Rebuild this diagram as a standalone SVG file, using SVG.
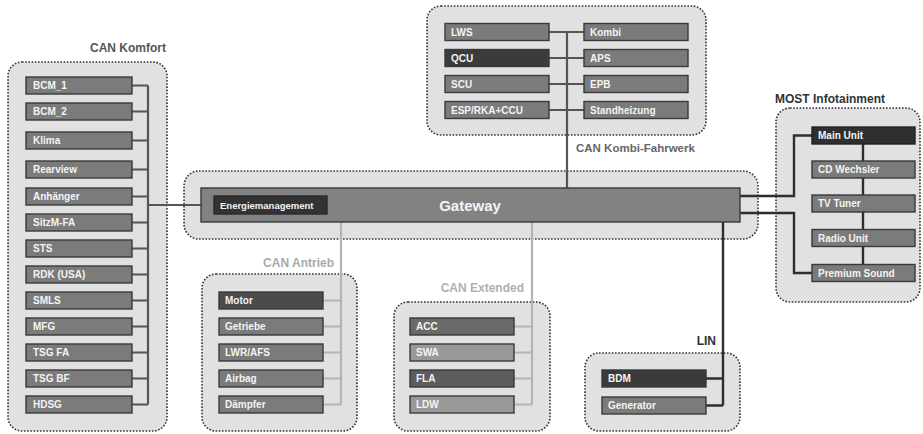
<svg xmlns="http://www.w3.org/2000/svg" width="923" height="434" viewBox="0 0 923 434">
<style>
.grp{fill:#e1e1e1;stroke:#333;stroke-width:1.6;stroke-dasharray:1.6 1.6}
.box{fill:#7b7b7b;stroke:#3a3a3a;stroke-width:1.4}
.dk{fill:#3b3b3b}
.lt{fill:#989898}
.t{font-family:"Liberation Sans",Arial,sans-serif;font-weight:bold;font-size:10px;fill:#f4f4f4}
.lbl{font-family:"Liberation Sans",Arial,sans-serif;font-weight:bold;font-size:12px}
.bus{fill:none;stroke:#555;stroke-width:2.2}
.busl{fill:none;stroke:#b4b4b4;stroke-width:2.2}
.busd{fill:none;stroke:#2e2e2e;stroke-width:2.4}
</style>
<rect width="923" height="434" fill="#fff"/>

<!-- containers -->
<g id="grp-komfort">
<rect class="grp" x="8" y="62" width="159" height="369" rx="14"/>
<text class="lbl" x="166" y="52" text-anchor="end" style="fill:#555">CAN Komfort</text>
</g>
<g id="grp-kombi">
<rect class="grp" x="427" y="6" width="279" height="129" rx="14"/>
<text class="lbl" x="576" y="152" style="fill:#666;font-size:11.5px">CAN Kombi-Fahrwerk</text>
</g>
<g id="grp-gateway">
<rect class="grp" x="184" y="171" width="574" height="68" rx="15"/>
</g>
<g id="grp-most">
<rect class="grp" x="776" y="108" width="144" height="194" rx="14"/>
<text class="lbl" x="775" y="103" style="fill:#333">MOST Infotainment</text>
</g>
<g id="grp-antrieb">
<rect class="grp" x="202" y="274" width="155" height="157" rx="14"/>
<text class="lbl" x="334" y="267" text-anchor="end" style="fill:#aaa">CAN Antrieb</text>
</g>
<g id="grp-extended">
<rect class="grp" x="394" y="302" width="156" height="129" rx="14"/>
<text class="lbl" x="524" y="292" text-anchor="end" style="fill:#b0b0b0">CAN Extended</text>
</g>
<g id="grp-lin">
<rect class="grp" x="585" y="353" width="155" height="78" rx="14"/>
<text class="lbl" x="716" y="345" text-anchor="end" style="fill:#333">LIN</text>
</g>

<!-- connectors -->
<g id="connectors">
<path class="bus" d="M148 85.5V404.5M132 85.5H148M132 111.5H148M132 140.5H148M132 169.5H148M132 196.5H148M132 222.5H148M132 248.5H148M132 274.5H148M132 300.5H148M132 326.5H148M132 352.5H148M132 378.5H148M132 404.5H148M148 205H201"/>
<path class="bus" d="M567 32V188M549 32H584M549 58H584M549 84H584M549 110H584"/>
<path class="busl" d="M341 222V404.5M323 300.5H341M323 326.5H341M323 352.5H341M323 378.5H341M323 404.5H341"/>
<path class="busl" d="M532 222V404.5M514 326.5H532M514 352.5H532M514 378.5H532M514 404.5H532"/>
<path class="busd" d="M723 222V405.5M706 378.5H723M706 405.5H723"/>
<path class="busd" d="M740 196H794V135.5H812M740 213H794V273H812M863 144V264"/>
</g>

<!-- Gateway -->
<g id="gateway">
<rect class="box" x="201" y="188" width="539" height="34" style="fill:#828282"/>
<text class="t" x="470" y="210.5" text-anchor="middle" style="font-size:15px">Gateway</text>
</g>
<g id="energiemanagement">
<rect class="box dk" x="214" y="196" width="113" height="18" style="stroke:#2a2a2a;fill:#333"/>
<text class="t" x="220" y="208.5" style="font-size:9.5px">Energiemanagement</text>
</g>

<!-- Komfort nodes -->
<g id="bcm1"><rect class="box" x="26" y="77" width="106" height="17"/><text class="t" x="33" y="89">BCM_1</text></g>
<g id="bcm2"><rect class="box" x="26" y="103" width="106" height="17"/><text class="t" x="33" y="115">BCM_2</text></g>
<g id="klima"><rect class="box" x="26" y="132" width="106" height="17"/><text class="t" x="33" y="144">Klima</text></g>
<g id="rearview"><rect class="box" x="26" y="161" width="106" height="17"/><text class="t" x="33" y="173">Rearview</text></g>
<g id="anhaenger"><rect class="box" x="26" y="188" width="106" height="17"/><text class="t" x="33" y="200">Anhänger</text></g>
<g id="sitzm"><rect class="box" x="26" y="214" width="106" height="17"/><text class="t" x="33" y="226">SitzM-FA</text></g>
<g id="sts"><rect class="box" x="26" y="240" width="106" height="17"/><text class="t" x="33" y="252">STS</text></g>
<g id="rdk"><rect class="box" x="26" y="266" width="106" height="17"/><text class="t" x="33" y="278">RDK (USA)</text></g>
<g id="smls"><rect class="box" x="26" y="292" width="106" height="17"/><text class="t" x="33" y="304">SMLS</text></g>
<g id="mfg"><rect class="box" x="26" y="318" width="106" height="17"/><text class="t" x="33" y="330">MFG</text></g>
<g id="tsgfa"><rect class="box" x="26" y="344" width="106" height="17"/><text class="t" x="33" y="356">TSG FA</text></g>
<g id="tsgbf"><rect class="box" x="26" y="370" width="106" height="17"/><text class="t" x="33" y="382">TSG BF</text></g>
<g id="hdsg"><rect class="box" x="26" y="396" width="106" height="17"/><text class="t" x="33" y="408">HDSG</text></g>

<!-- Kombi nodes -->
<g id="lws"><rect class="box" x="445" y="23.5" width="104" height="17"/><text class="t" x="451" y="35.5">LWS</text></g>
<g id="qcu"><rect class="box dk" x="445" y="49.5" width="104" height="17"/><text class="t" x="451" y="61.5">QCU</text></g>
<g id="scu"><rect class="box" x="445" y="75.5" width="104" height="17"/><text class="t" x="451" y="87.5">SCU</text></g>
<g id="esp"><rect class="box" x="445" y="101.5" width="104" height="17"/><text class="t" x="451" y="113.5">ESP/RKA+CCU</text></g>
<g id="kombi"><rect class="box" x="584" y="23.5" width="104" height="17"/><text class="t" x="590" y="35.5">Kombi</text></g>
<g id="aps"><rect class="box" x="584" y="49.5" width="104" height="17"/><text class="t" x="590" y="61.5">APS</text></g>
<g id="epb"><rect class="box" x="584" y="75.5" width="104" height="17"/><text class="t" x="590" y="87.5">EPB</text></g>
<g id="standheizung"><rect class="box" x="584" y="101.5" width="104" height="17"/><text class="t" x="590" y="113.5">Standheizung</text></g>

<!-- MOST nodes -->
<g id="mainunit"><rect class="box" x="812" y="127" width="103" height="17" style="fill:#2f2f2f;stroke:#222"/><text class="t" x="818" y="139">Main Unit</text></g>
<g id="cdwechsler"><rect class="box" x="812" y="161" width="103" height="17"/><text class="t" x="818" y="173">CD Wechsler</text></g>
<g id="tvtuner"><rect class="box" x="812" y="195" width="103" height="17"/><text class="t" x="818" y="207">TV Tuner</text></g>
<g id="radiounit"><rect class="box" x="812" y="229.5" width="103" height="17"/><text class="t" x="818" y="241.5">Radio Unit</text></g>
<g id="premiumsound"><rect class="box" x="812" y="264.5" width="103" height="17"/><text class="t" x="818" y="276.5">Premium Sound</text></g>

<!-- Antrieb nodes -->
<g id="motor"><rect class="box" x="219" y="292" width="104" height="17" style="fill:#4b4b4b"/><text class="t" x="225" y="304">Motor</text></g>
<g id="getriebe"><rect class="box" x="219" y="318" width="104" height="17"/><text class="t" x="225" y="330">Getriebe</text></g>
<g id="lwrafs"><rect class="box" x="219" y="344" width="104" height="17"/><text class="t" x="225" y="356">LWR/AFS</text></g>
<g id="airbag"><rect class="box" x="219" y="370" width="104" height="17"/><text class="t" x="225" y="382">Airbag</text></g>
<g id="daempfer"><rect class="box" x="219" y="396" width="104" height="17"/><text class="t" x="225" y="408">Dämpfer</text></g>

<!-- Extended nodes -->
<g id="acc"><rect class="box" x="410" y="318" width="104" height="17" style="fill:#6a6a6a"/><text class="t" x="416" y="330">ACC</text></g>
<g id="swa"><rect class="box lt" x="410" y="344" width="104" height="17"/><text class="t" x="416" y="356">SWA</text></g>
<g id="fla"><rect class="box" x="410" y="370" width="104" height="17" style="fill:#5c5c5c"/><text class="t" x="416" y="382">FLA</text></g>
<g id="ldw"><rect class="box lt" x="410" y="396" width="104" height="17"/><text class="t" x="416" y="408">LDW</text></g>

<!-- LIN nodes -->
<g id="bdm"><rect class="box dk" x="602" y="370" width="104" height="17"/><text class="t" x="608" y="382">BDM</text></g>
<g id="generator"><rect class="box" x="602" y="397" width="104" height="17"/><text class="t" x="608" y="409">Generator</text></g>
</svg>
